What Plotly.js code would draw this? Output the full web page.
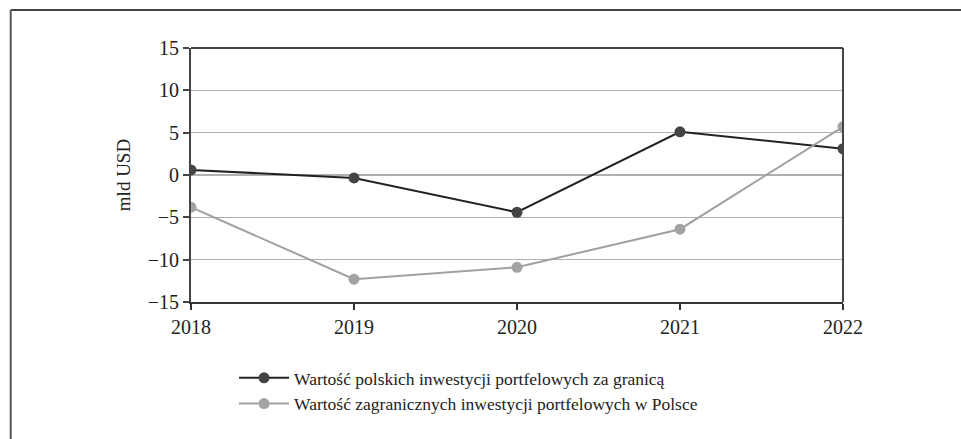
<!DOCTYPE html>
<html>
<head>
<meta charset="utf-8">
<script src="https://cdn.plot.ly/plotly-3.0.1.min.js"></script>
<style>html,body{margin:0;padding:0;background:#fff;}#chart{width:961px;height:439px;}</style>
</head>
<body>
<div id="chart"></div>
<script>
var years = ['2018', '2019', '2020', '2021', '2022'];
var polishAbroad = [0.6, -0.35, -4.4, 5.1, 3.1];
var foreignInPoland = [-3.8, -12.3, -10.9, -6.4, 5.7];
var seriesNames = ['Wartość polskich inwestycji portfelowych za granicą', 'Wartość zagranicznych inwestycji portfelowych w Polsce'];
var yTicks = [-15, -10, -5, 0, 5, 10, 15];
var yTickText = ['\u221215', '\u221210', '\u22125', '0', '5', '10', '15'];

var fam = '"Liberation Serif", "Times New Roman", serif';
var tickFont = {family: fam, size: 20, color: '#222'};

var traces = [
  {x: years, y: polishAbroad, name: seriesNames[0], type: 'scatter', mode: 'lines+markers',
   line: {color: '#222222', width: 2}, marker: {color: '#444444', size: 11}},
  {x: years, y: foreignInPoland, name: seriesNames[1], type: 'scatter', mode: 'lines+markers',
   line: {color: '#a0a0a0', width: 2}, marker: {color: '#a3a3a3', size: 11}}
];

var layout = {
  width: 961, height: 439,
  margin: {l: 191, r: 118, t: 48, b: 137},
  paper_bgcolor: '#fff', plot_bgcolor: '#fff',
  font: tickFont,
  showlegend: true,
  legend: {x: 0.066, y: -0.228, xanchor: 'left', yanchor: 'top', font: {family: fam, size: 17.5, color: '#222'},
           tracegroupgap: 0, itemwidth: 50, bgcolor: 'rgba(0,0,0,0)'},
  xaxis: {type: 'category', range: [0, 4], showline: true, linecolor: '#333', linewidth: 2,
          ticks: 'outside', ticklen: 6, tickcolor: '#333', tickwidth: 2, showgrid: false,
          tickfont: tickFont, zeroline: false, automargin: false},
  yaxis: {range: [-15, 15], tickvals: yTicks, ticktext: yTickText, showline: true, linecolor: '#444', linewidth: 2,
          ticks: 'outside', ticklen: 6, tickcolor: '#444', tickwidth: 2,
          showgrid: true, gridcolor: '#b0b0b0', gridwidth: 1.5, zeroline: false, tickfont: tickFont,
          title: {text: 'mld USD', font: {family: fam, size: 19, color: '#222'}, standoff: 12}, automargin: false},
  shapes: [
    {type: 'line', xref: 'paper', yref: 'paper', x0: 0, x1: 1, y0: 1, y1: 1, line: {color: '#444', width: 2}},
    {type: 'line', xref: 'paper', yref: 'paper', x0: 1, x1: 1, y0: 0, y1: 1, line: {color: '#444', width: 2}},
    {type: 'line', xref: 'paper', yref: 'paper', x0: -0.2765, x1: 1.2, y0: 1.15, y1: 1.15, line: {color: '#444', width: 2}},
    {type: 'line', xref: 'paper', yref: 'paper', x0: -0.2765, x1: -0.2765, y0: 1.15, y1: -0.6, line: {color: '#555', width: 2}}
  ]
};

Plotly.newPlot('chart', traces, layout, {displayModeBar: false, staticPlot: true});
</script>
</body>
</html>
